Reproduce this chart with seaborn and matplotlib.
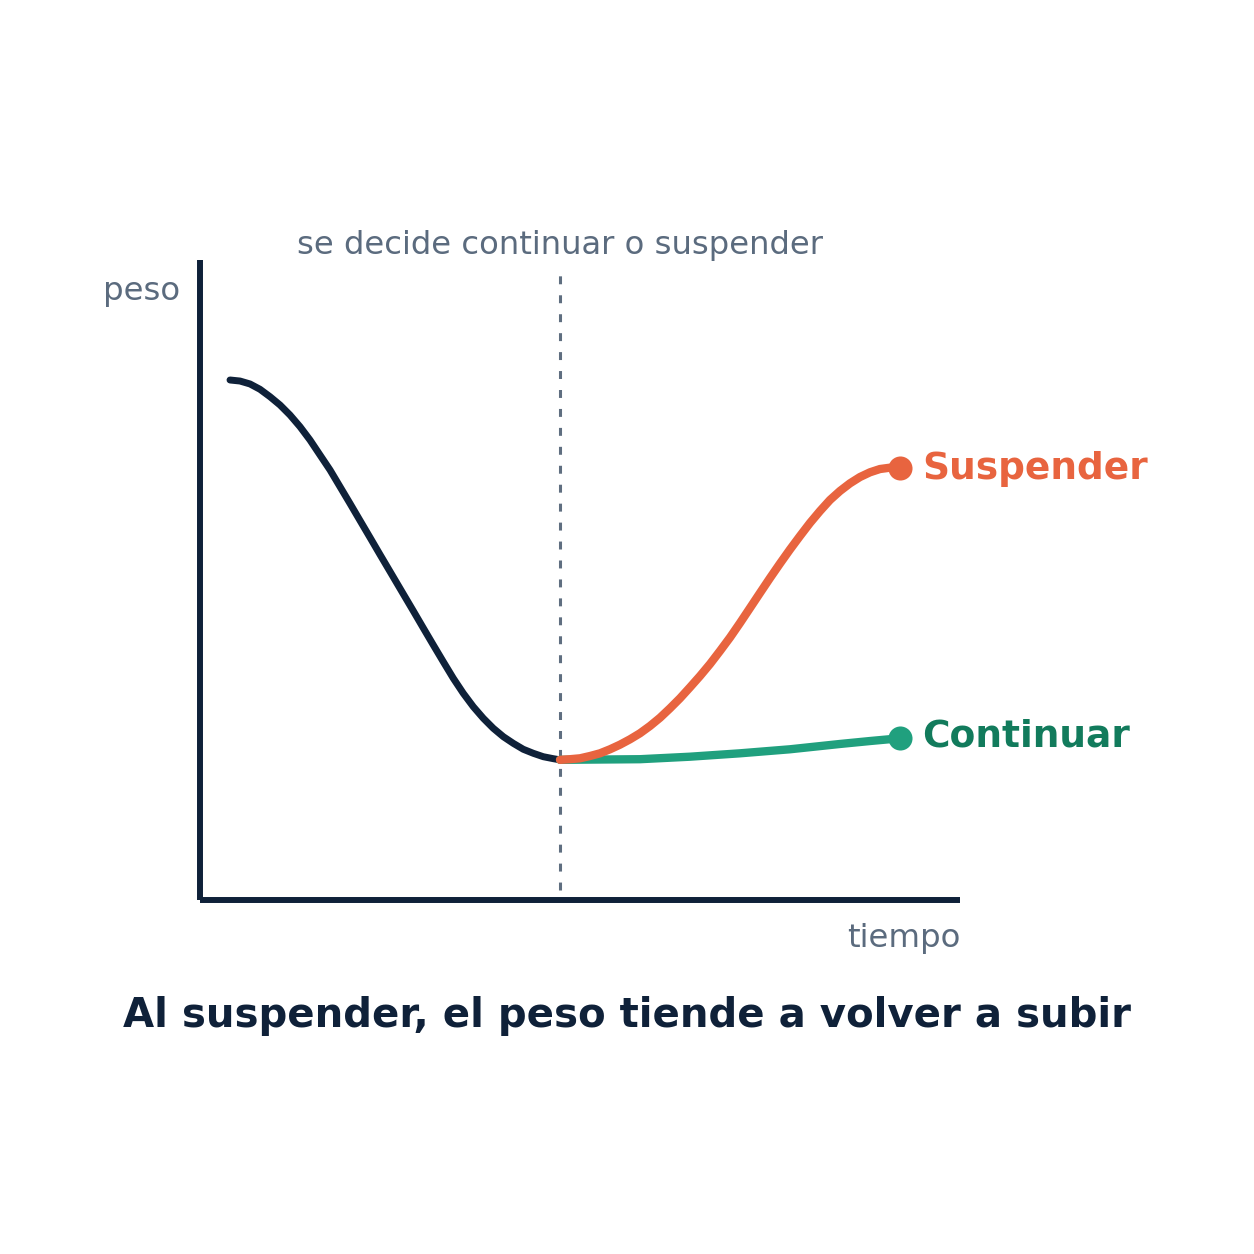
import matplotlib
matplotlib.use("Agg")
import matplotlib.pyplot as plt
import seaborn as sns

# curve points (x: time, y: weight, both on a 0-10 scale)
decline_x = [0.395, 0.526, 0.658, 0.789, 0.921, 1.053, 1.184, 1.316, 1.447, 1.579,
             1.711, 1.842, 1.974, 2.105, 2.237, 2.368, 2.500, 2.675, 2.807, 2.938,
             3.070, 3.201, 3.333, 3.464, 3.596, 3.728, 3.859, 3.991, 4.122, 4.254,
             4.386, 4.517, 4.649, 4.737]
decline_y = [8.125, 8.109, 8.063, 7.980, 7.864, 7.734, 7.578, 7.395, 7.188, 6.953,
             6.719, 6.458, 6.195, 5.930, 5.664, 5.398, 5.133, 4.781, 4.516, 4.250,
             3.984, 3.723, 3.464, 3.230, 3.020, 2.839, 2.683, 2.552, 2.448, 2.355,
             2.292, 2.239, 2.208, 2.190]

stop_x = [4.737, 4.868, 5.000, 5.132, 5.263, 5.395, 5.526, 5.658, 5.789, 5.921,
          6.053, 6.184, 6.316, 6.447, 6.579, 6.711, 6.842, 6.974, 7.105, 7.237,
          7.368, 7.500, 7.632, 7.763, 7.895, 8.026, 8.158, 8.289, 8.421, 8.553,
          8.684, 8.816, 8.947, 9.079, 9.211]
stop_y = [2.190, 2.200, 2.214, 2.250, 2.292, 2.355, 2.427, 2.511, 2.605, 2.719,
          2.848, 2.995, 3.152, 3.323, 3.500, 3.688, 3.891, 4.102, 4.328, 4.563,
          4.797, 5.031, 5.258, 5.477, 5.688, 5.891, 6.078, 6.250, 6.391, 6.511,
          6.609, 6.683, 6.734, 6.755, 6.745]

cont_x = [4.737, 5.263, 5.789, 6.447, 7.105, 7.763, 8.421, 8.816, 9.211]
cont_y = [2.190, 2.195, 2.200, 2.239, 2.292, 2.355, 2.438, 2.484, 2.527]

decision_x = 4.737
labels = ['Suspender', 'Continuar']
label_y = [6.73, 2.55]

DARK = '#0f2139'
GREY = '#5b6b7e'
ORANGE = '#e8643f'
GREEN = '#20a07e'
GREEN_TXT = '#127b5c'

sns.set_style('white')
plt.rcParams['font.family'] = ['DejaVu Sans']

fig = plt.figure(figsize=(12.54, 12.54), dpi=100)
ax = fig.add_axes([200 / 1254, 354 / 1254, 760 / 1254, 640 / 1254])
ax.set_xlim(0, 10)
ax.set_ylim(0, 10)

# decision marker
ax.plot([decision_x, decision_x], [0.15, 9.9], color='#5f6e80', lw=2.2,
        linestyle=(0, (2.6, 3.6)), zorder=1)

sns.lineplot(x=decline_x, y=decline_y, ax=ax, color=DARK, linewidth=5,
             sort=False, estimator=None, solid_capstyle='round',
             solid_joinstyle='round', zorder=3)
sns.lineplot(x=cont_x, y=cont_y, ax=ax, color=GREEN, linewidth=6,
             sort=False, estimator=None, solid_capstyle='round',
             solid_joinstyle='round', zorder=3)
sns.lineplot(x=stop_x, y=stop_y, ax=ax, color=ORANGE, linewidth=6,
             sort=False, estimator=None, solid_capstyle='round',
             solid_joinstyle='round', zorder=4)
sns.scatterplot(x=[stop_x[-1]], y=[stop_y[-1]], ax=ax, color=ORANGE, s=300,
                linewidth=0, zorder=5)
sns.scatterplot(x=[cont_x[-1]], y=[cont_y[-1]], ax=ax, color=GREEN, s=300,
                linewidth=0, zorder=5)

for lab, yy, col in zip(labels, label_y, [ORANGE, GREEN_TXT]):
    ax.text(9.5, yy, lab, color=col, fontsize=27, fontweight='bold',
            ha='left', va='center', clip_on=False)

ax.text(decision_x, 10.1, 'se decide continuar o suspender', color=GREY,
        fontsize=23.2, ha='center', va='baseline', clip_on=False)

# axes: only left and bottom
for side in ['top', 'right']:
    ax.spines[side].set_visible(False)
for side in ['left', 'bottom']:
    ax.spines[side].set_color(DARK)
    ax.spines[side].set_linewidth(4.3)
    ax.spines[side].set_capstyle('butt')
ax.set_xticks([])
ax.set_yticks([])

fig.text(180 / 1254, 1 - 300 / 1254, 'peso', color=GREY, fontsize=23.3,
         ha='right', va='baseline')
fig.text(960 / 1254, 1 - 947 / 1254, 'tiempo', color=GREY, fontsize=23.3,
         ha='right', va='baseline')
fig.text(627 / 1254, 1 - 1027 / 1254,
         'Al suspender, el peso tiende a volver a subir', color=DARK,
         fontsize=29, fontweight='bold', ha='center', va='baseline')

fig.savefig('out.png', dpi=100, facecolor='white')
